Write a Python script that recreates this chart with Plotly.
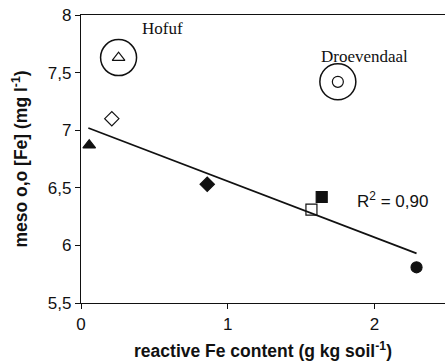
import numpy as np
import plotly.graph_objects as go

# data
fe_x = [0.056, 0.21, 0.86, 1.57, 1.64, 2.286]
meso_y = [6.87, 7.10, 6.53, 6.31, 6.42, 5.81]
symbols = ["triangle-up", "diamond-open", "diamond", "square-open", "square", "circle"]

ext_x = [0.256, 1.75]
ext_y = [7.63, 7.42]
ext_symbols = ["triangle-up-open", "circle-open"]
ext_labels = ["Hofuf", "Droevendaal"]

x_ticks = [0, 1, 2]
y_ticks = [5.5, 6, 6.5, 7, 7.5, 8]
y_ticklabels = ["5,5", "6", "6,5", "7", "7,5", "8"]

# linear fit
slope, intercept = np.polyfit(fe_x, meso_y, 1)
pred = np.polyval([slope, intercept], fe_x)
r2 = 1 - np.sum((np.array(meso_y) - pred) ** 2) / np.sum((np.array(meso_y) - np.mean(meso_y)) ** 2)
fit_x = [min(fe_x) - 0.006, max(fe_x)]
fit_y = [slope * v + intercept for v in fit_x]

fig = go.Figure()
fig.add_trace(go.Scatter(x=fit_x, y=fit_y, mode="lines",
                         line=dict(color="#111", width=1.7), showlegend=False))
fig.add_trace(go.Scatter(x=fe_x, y=meso_y, mode="markers",
                         marker=dict(symbol=symbols, size=11, color="#111",
                                     line=dict(color="#111", width=1.2)),
                         showlegend=False))
fig.add_trace(go.Scatter(x=ext_x, y=ext_y, mode="markers",
                         marker=dict(symbol=ext_symbols, size=11, color="#111",
                                     line=dict(color="#111", width=1.2)),
                         showlegend=False))
fig.add_trace(go.Scatter(x=ext_x, y=ext_y, mode="markers",
                         marker=dict(symbol="circle-open", size=36, color="#111",
                                     line=dict(color="#111", width=1.5)),
                         showlegend=False))

fig.add_annotation(x=0.555, y=7.885, text=ext_labels[0], showarrow=False,
                   font=dict(family="Liberation Serif", size=17, color="#111"))
fig.add_annotation(x=1.93, y=7.64, text=ext_labels[1], showarrow=False,
                   font=dict(family="Liberation Serif", size=17, color="#111"))
fig.add_annotation(x=2.12, y=6.39, text="R<sup>2</sup> = " + f"{r2:.2f}".replace(".", ","),
                   showarrow=False,
                   font=dict(family="Liberation Sans", size=17, color="#111"))

fig.update_layout(
    width=445, height=363,
    margin=dict(l=81, r=0, t=15, b=60),
    plot_bgcolor="white", paper_bgcolor="white",
    font=dict(family="Liberation Sans", color="#111"),
)
fig.update_xaxes(range=[0, 2.48], tickvals=x_ticks, ticktext=[str(t) for t in x_ticks],
                 showgrid=False, zeroline=False, showline=True, linecolor="#111",
                 linewidth=1.2, mirror=True, ticks="outside", ticklen=5, tickcolor="#111",
                 tickfont=dict(size=17),
                 title=dict(text="<b>reactive Fe content (g kg soil<sup>-1</sup>)</b>",
                            font=dict(size=17.5), standoff=12))
fig.update_yaxes(range=[5.5, 8], tickvals=y_ticks, ticktext=y_ticklabels,
                 showgrid=False, zeroline=False, showline=True, linecolor="#111",
                 linewidth=1.2, ticks="outside", ticklen=5, tickcolor="#111",
                 tickfont=dict(size=17),
                 title=dict(text="<b>meso o,o [Fe] (mg l<sup>-1</sup>)</b>",
                            font=dict(size=17.5), standoff=15))

fig.write_html("out.html")
